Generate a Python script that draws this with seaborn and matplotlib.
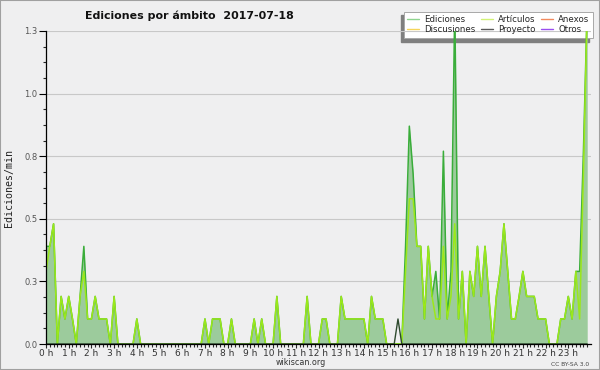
import numpy as np
import pandas as pd
import seaborn as sns
import matplotlib
matplotlib.use("Agg")
import matplotlib.pyplot as plt
from matplotlib import font_manager
from matplotlib.lines import Line2D
from matplotlib.patches import Rectangle

# 10-minute bins over the day, values in edits/min
ediciones = [0.39, 0.39, 0.48, 0, 0.19, 0.1, 0.19, 0.1, 0, 0.19,
             0.39, 0.1, 0.1, 0.19, 0.1, 0.1, 0.1, 0, 0.19, 0,
             0, 0, 0, 0, 0.1, 0, 0, 0, 0, 0,
             0, 0, 0, 0, 0, 0, 0, 0, 0, 0,
             0, 0, 0.1, 0, 0.1, 0.1, 0.1, 0, 0, 0.1,
             0, 0, 0, 0, 0, 0.1, 0, 0.1, 0, 0,
             0, 0.19, 0, 0, 0, 0, 0, 0, 0, 0.19,
             0, 0, 0, 0.1, 0.1, 0, 0, 0, 0.19, 0.1,
             0.1, 0.1, 0.1, 0.1, 0.1, 0, 0.19, 0.1, 0.1, 0.1,
             0, 0, 0, 0, 0, 0.39, 0.87, 0.68, 0.39, 0.39,
             0.1, 0.39, 0.19, 0.29, 0.1, 0.77, 0.1, 0.29, 1.35, 0.1,
             0.29, 0, 0.29, 0.19, 0.39, 0.19, 0.39, 0.19, 0, 0.19,
             0.29, 0.48, 0.29, 0.1, 0.1, 0.19, 0.29, 0.19, 0.19, 0.19,
             0.1, 0.1, 0.1, 0, 0, 0, 0.1, 0.1, 0.19, 0.1,
             0.29, 0.29, 0.77, 1.35]

articulos = [0.29, 0.39, 0.48, 0, 0.19, 0.1, 0.19, 0.1, 0, 0.19,
             0.29, 0.1, 0.1, 0.19, 0.1, 0.1, 0.1, 0, 0.19, 0,
             0, 0, 0, 0, 0.1, 0, 0, 0, 0, 0,
             0, 0, 0, 0, 0, 0, 0, 0, 0, 0,
             0, 0, 0.1, 0, 0.1, 0.1, 0.1, 0, 0, 0.1,
             0, 0, 0, 0, 0, 0.1, 0, 0.1, 0, 0,
             0, 0.19, 0, 0, 0, 0, 0, 0, 0, 0.19,
             0, 0, 0, 0.1, 0.1, 0, 0, 0, 0.19, 0.1,
             0.1, 0.1, 0.1, 0.1, 0.1, 0, 0.19, 0.1, 0.1, 0.1,
             0, 0, 0, 0, 0, 0.29, 0.58, 0.58, 0.39, 0.39,
             0.1, 0.39, 0.19, 0.1, 0.1, 0.39, 0.1, 0.19, 0.48, 0.1,
             0.29, 0, 0.29, 0.19, 0.39, 0.19, 0.39, 0.19, 0, 0.19,
             0.29, 0.48, 0.29, 0.1, 0.1, 0.19, 0.29, 0.19, 0.19, 0.19,
             0.1, 0.1, 0.1, 0, 0, 0, 0.1, 0.1, 0.19, 0.1,
             0.29, 0.1, 0.68, 1.35]

proyecto = [0] * 93 + [0.1] + [0] * 50

y_ticks = [0, 0.25, 0.5, 0.75, 1.0, 1.25]
y_labels = ["0.0", "0.3", "0.5", "0.8", "1.0", "1.3"]
hour_labels = [f"{h} h" for h in range(24)]

legend_names = ["Ediciones", "Discusiones", "Artículos", "Proyecto", "Anexos", "Otros"]
legend_colors = ["#8fd48f", "#f5d55a", "#d2f276", "#5a5a5a", "#f28a5e", "#9a4ff0"]

df = pd.DataFrame({
    "hora": np.arange(144) / 6,
    "Ediciones": ediciones,
    "Artículos": articulos,
    "Proyecto": proyecto,
})


def pick_font(names):
    for n in names:
        try:
            font_manager.findfont(n, fallback_to_default=False)
            return n
        except ValueError:
            pass
    return "DejaVu Sans"


sns.set_style("ticks")
cond = pick_font(["DejaVu Sans Condensed", "Liberation Sans Narrow"])
plt.rcParams["font.family"] = ["DejaVu Sans"]

fig = plt.figure(figsize=(6, 3.7), dpi=100, facecolor="#efeff0")
ax = fig.add_axes([46 / 600, 1 - 344 / 370, 545 / 600, 313 / 370])
ax.patch.set_visible(False)

ax.fill_between(df["hora"], df["Ediciones"], color="#9ccb9c", lw=0)
sns.lineplot(data=df, x="hora", y="Ediciones", color="#3aad3a", lw=1.1, ax=ax)
sns.lineplot(data=df, x="hora", y="Artículos", color="#9be81a", lw=1.1, ax=ax)
sns.lineplot(data=df, x="hora", y="Proyecto", color="#2e4a2e", lw=1.0, ax=ax)

ax.set_xlim(0, 24)
ax.set_ylim(0, 1.25)
ax.set_xlabel("")
ax.set_ylabel("")

ax.set_yticks(y_ticks)
ax.set_yticklabels(y_labels)
ax.set_yticks(np.arange(0, 1.26, 0.0625), minor=True)
ax.set_xticks(range(24))
ax.set_xticklabels(hour_labels)
ax.set_xticks(np.arange(0, 24, 1 / 6), minor=True)

ax.tick_params(axis="y", which="major", length=5, width=0.8, labelsize=6, colors="#000", labelcolor="#555", pad=1)
ax.tick_params(axis="y", which="minor", length=2.5, width=0.8)
ax.tick_params(axis="x", which="major", length=3, width=0.8, labelsize=6.5, labelcolor="#333", pad=0.5)
ax.tick_params(axis="x", which="minor", length=2.5, width=0.8)

ax.yaxis.grid(True, color="#c8c8c8", lw=0.8)
ax.set_axisbelow(True)
sns.despine(ax=ax)
for s in ["left", "bottom"]:
    ax.spines[s].set_color("black")
    ax.spines[s].set_linewidth(0.9)

# titles and footer
fig.text(85 / 600, 1 - 19 / 370, "Ediciones por ámbito  2017-07-18", fontsize=7.9,
         fontweight="bold", family=[cond, "DejaVu Sans"], va="baseline", ha="left", color="#111")
fig.text(9 / 600, 1 - 188 / 370, "Ediciones/min", rotation=90, fontsize=7.2,
         family=["DejaVu Sans Mono"], va="center", ha="center", color="#222")
fig.text(301 / 600, 1 - 365 / 370, "wikiscan.org", fontsize=5.8, ha="center",
         va="baseline", color="#333")
fig.text(589 / 600, 1 - 365.5 / 370, "CC BY-SA 3.0", fontsize=4.3, ha="right",
         va="baseline", color="#444")

# legend box with shadow
fig.patches.append(Rectangle((401 / 600, 1 - 41.7 / 370), 188 / 600, 26.7 / 370,
                             transform=fig.transFigure, color="#7f7f7f", zorder=-2))
fig.patches.append(Rectangle((404 / 600, 1 - 38.3 / 370), 189 / 600, 26.6 / 370,
                             transform=fig.transFigure, facecolor="white",
                             edgecolor="#a8a8a8", lw=0.7, zorder=-1))
handles = [Line2D([], [], color=c, lw=1.0) for c in legend_colors]
fig.legend(handles, legend_names, ncol=3, loc="upper left",
           bbox_to_anchor=(407 / 600, 1 - 15.3 / 370), frameon=False, fontsize=6.2,
           handlelength=1.4, handletextpad=0.55, columnspacing=0.7,
           labelspacing=0.08, borderpad=0, borderaxespad=0)

# outer frame
fig.patches.append(Rectangle((0, 0), 1, 1, transform=fig.transFigure, fill=False,
                             edgecolor="#a0a0a0", lw=1.5))

fig.savefig("out.png", dpi=100, facecolor=fig.get_facecolor())
